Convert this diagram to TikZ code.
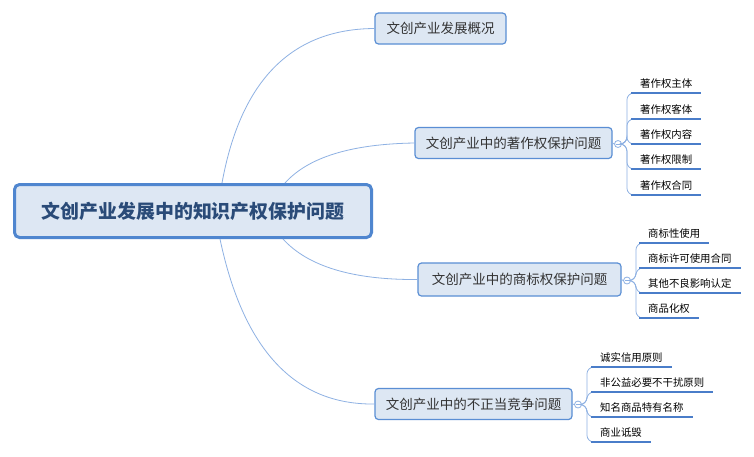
\documentclass[tikz,border=0pt]{standalone}
\usepackage{fontspec}
\newfontfamily\cjk{Noto Sans CJK SC}
\definecolor{boxfill}{HTML}{DDE7F3}
\definecolor{boxline}{HTML}{5A8ED4}
\definecolor{rootline}{HTML}{4F86CF}
\definecolor{roottext}{HTML}{2A4B78}
\definecolor{conn}{HTML}{8EB1E3}
\definecolor{uline}{HTML}{4A7DC9}
\definecolor{btext}{HTML}{333333}
\tikzset{
  rootbox/.style={draw=rootline, line width=3pt, fill=boxfill, rounded corners=5pt,
    minimum width=357pt, minimum height=53pt, inner sep=0pt, text=roottext,
    font=\cjk\bfseries\fontsize{18.9}{21}\selectfont},
  brbox/.style={draw=boxline, line width=1.2pt, fill=boxfill, rounded corners=3.5pt,
    minimum height=31pt, inner sep=0pt, text=btext,
    font=\cjk\fontsize{13.5}{16}\selectfont},
  kid/.style={anchor=south west, inner xsep=9pt, inner ysep=3.5pt, text height=9pt,
    text depth=1.5pt, text=black, font=\cjk\fontsize{10.4}{12}\selectfont},
  knob/.style={circle, draw=conn, line width=0.8pt, fill=white, minimum size=7pt, inner sep=0pt,
    path picture={\draw[conn, line width=0.7pt] ([xshift=-2pt]path picture bounding box.center) -- ([xshift=2pt]path picture bounding box.center);}},
  conline/.style={draw=conn, line width=0.8pt},
  kidline/.style={draw=conn, line width=0.8pt, rounded corners=7pt},
  uln/.style={draw=uline, line width=2.5pt},
}
\begin{document}
\begin{tikzpicture}[x=1pt, y=-1pt]
\useasboundingbox[fill=white] (0,0) rectangle (754,456);

% root
\node[rootbox] (root) at (193,211) {文创产业发展中的知识产权保护问题};

% branches
\node[brbox, minimum width=131pt] (b1) at (440.5,28.5) {文创产业发展概况};
\node[brbox, minimum width=197pt] (b2) at (513.5,143) {文创产业中的著作权保护问题};
\node[brbox, minimum width=203pt, minimum height=33pt] (b3) at (519.5,279.5) {文创产业中的商标权保护问题};
\node[brbox, minimum width=197pt] (b4) at (473.5,404) {文创产业中的不正当竞争问题};

% main connectors
\draw[conline] ([xshift=209pt]root.north west) .. controls (240.7,80.3) and (291.7,29) .. (b1.west);
\draw[conline] ([xshift=272pt]root.north west) .. controls (308.3,157) and (351.7,144) .. (b2.west);
\draw[conline] ([xshift=270pt]root.south west) .. controls (307.7,266.3) and (352.7,280) .. (b3.west);
\draw[conline] ([xshift=207pt]root.south west) .. controls (243.3,349.7) and (295,405) .. (b4.west);

% knobs
\node[knob] (k2) at (618,144) {};
\node[knob] (k3) at (627,280.5) {};
\node[knob] (k4) at (578,404.5) {};
\draw[conline] (b2.east) -- (k2.west);
\draw[conline] (b3.east) -- (k3.west);
\draw[conline] (b4.east) -- (k4.west);

% children of b2
\node[kid] (c21) at (631,93) {著作权主体};
\node[kid] (c22) at (631,119) {著作权客体};
\node[kid] (c23) at (631,144) {著作权内容};
\node[kid] (c24) at (631,169) {著作权限制};
\node[kid] (c25) at (631,195) {著作权合同};
\foreach \c in {c21,c22,c23,c24,c25}{
  \draw[kidline] (k2.east) -- ++(5,0) |- (\c.south west);
  \draw[uln] (\c.south west) -- (\c.south east);
}

% children of b3
\node[kid] (c31) at (639,243) {商标性使用};
\node[kid] (c32) at (639,268) {商标许可使用合同};
\node[kid] (c33) at (639,293) {其他不良影响认定};
\node[kid] (c34) at (639,318) {商品化权};
\foreach \c in {c31,c32,c33,c34}{
  \draw[kidline] (k3.east) -- ++(5,0) |- (\c.south west);
  \draw[uln] (\c.south west) -- (\c.south east);
}

% children of b4
\node[kid] (c41) at (591,367) {诚实信用原则};
\node[kid] (c42) at (591,392) {非公益必要不干扰原则};
\node[kid] (c43) at (591,417) {知名商品特有名称};
\node[kid] (c44) at (591,442) {商业诋毁};
\foreach \c in {c41,c42,c43,c44}{
  \draw[kidline] (k4.east) -- ++(5,0) |- (\c.south west);
  \draw[uln] (\c.south west) -- (\c.south east);
}
\end{tikzpicture}
\end{document}
